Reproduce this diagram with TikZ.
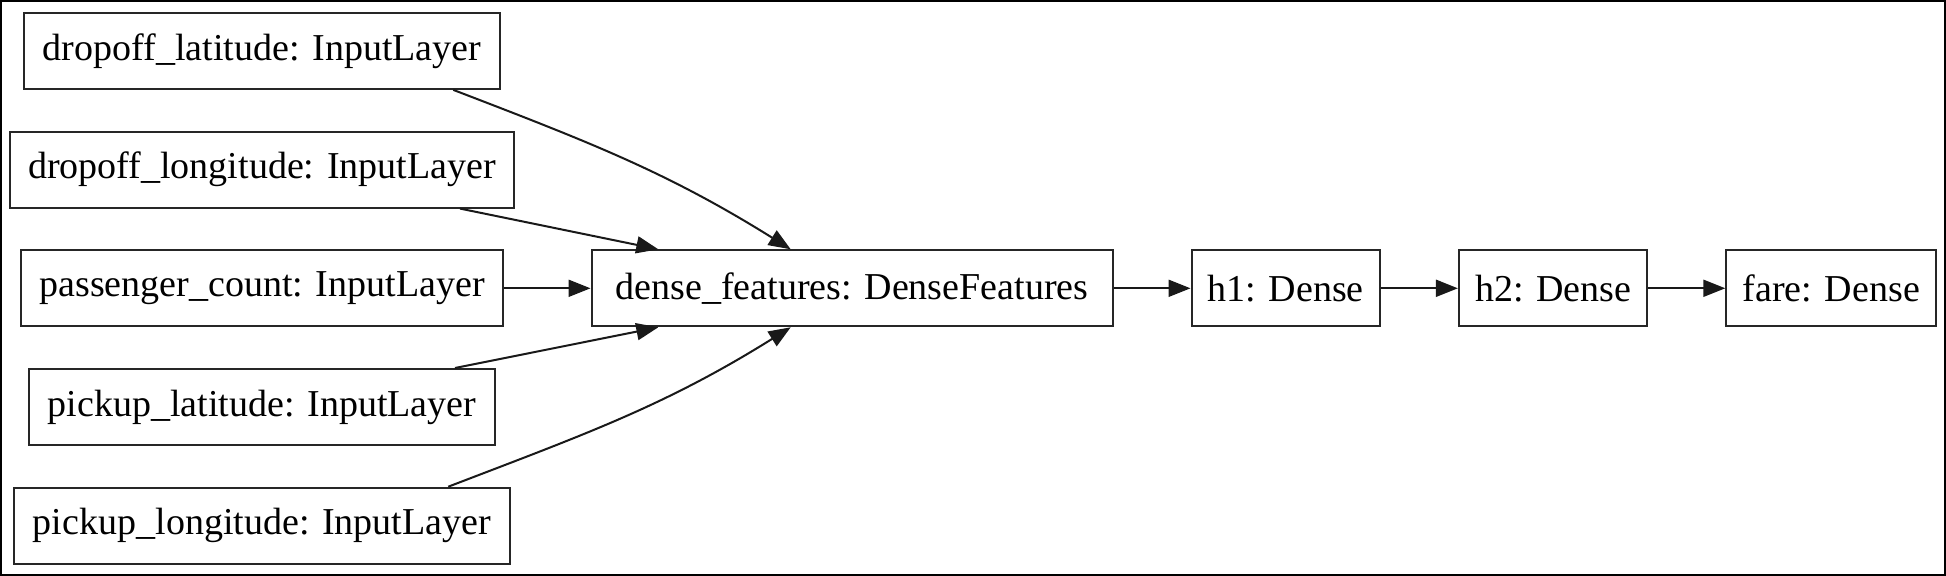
\documentclass[tikz,border=0pt]{standalone}
\usepackage{fontspec}
\setmainfont{Liberation Serif}
\usetikzlibrary{positioning,arrows.meta}

\tikzset{
  layer/.style={rectangle, draw=black!85, line width=1pt, minimum height=38pt,
    inner xsep=9.25pt, inner ysep=0pt, font=\fontsize{19}{23}\selectfont},
  small layer/.style={layer, inner xsep=7pt, minimum width=#1},
  link/.style={draw=black!90, line width=1pt, -{Triangle[length=11pt,width=8.5pt]}},
}

\begin{document}
\begin{tikzpicture}[]
    \useasboundingbox (-131pt,-143.85pt) rectangle (842pt,144.15pt);
    \draw[line width=2pt] (-131pt,-143.85pt) rectangle (842pt,144.15pt);
    \node[layer]                          (count) {passenger\_count: InputLayer}; %
    \node[layer, above=20.35pt of count]  (dlon)  {dropoff\_longitude: InputLayer};
    \node[layer, above=20.35pt of dlon]   (dlat)  {dropoff\_latitude: InputLayer};
    \node[layer, below=20.35pt of count]  (plat)  {pickup\_latitude: InputLayer};
    \node[layer, below=20.35pt of plat]   (plon)  {pickup\_longitude: InputLayer};
    \node[layer, minimum width=260.5pt] at (295pt,0) (dense) {dense\_features: DenseFeatures};
    \node[small layer=94.2pt, right=38.5pt of dense] (h1)   {h1: Dense};
    \node[small layer=94.2pt, right=38.5pt of h1]    (h2)   {h2: Dense};
    \node[small layer=105pt, right=38.5pt of h2]     (fare) {fare: Dense};
    \draw[link] ([xshift=95.65pt]dlat.south) to[out=-21, in=148] ([xshift=-30.65pt]dense.north);
    \draw[link] ([xshift=99pt]dlon.south) -- ([xshift=-96.85pt]dense.north);
    \draw[link] (count) -- (dense);
    \draw[link] ([xshift=96.5pt]plat.north) -- ([xshift=-96.85pt]dense.south);
    \draw[link] ([xshift=93.15pt]plon.north) to[out=21, in=-148] ([xshift=-30.65pt]dense.south);
    \draw[link] (dense) -- (h1);
    \draw[link] (h1) -- (h2);
    \draw[link] (h2) -- (fare);
\end{tikzpicture}
\end{document}
